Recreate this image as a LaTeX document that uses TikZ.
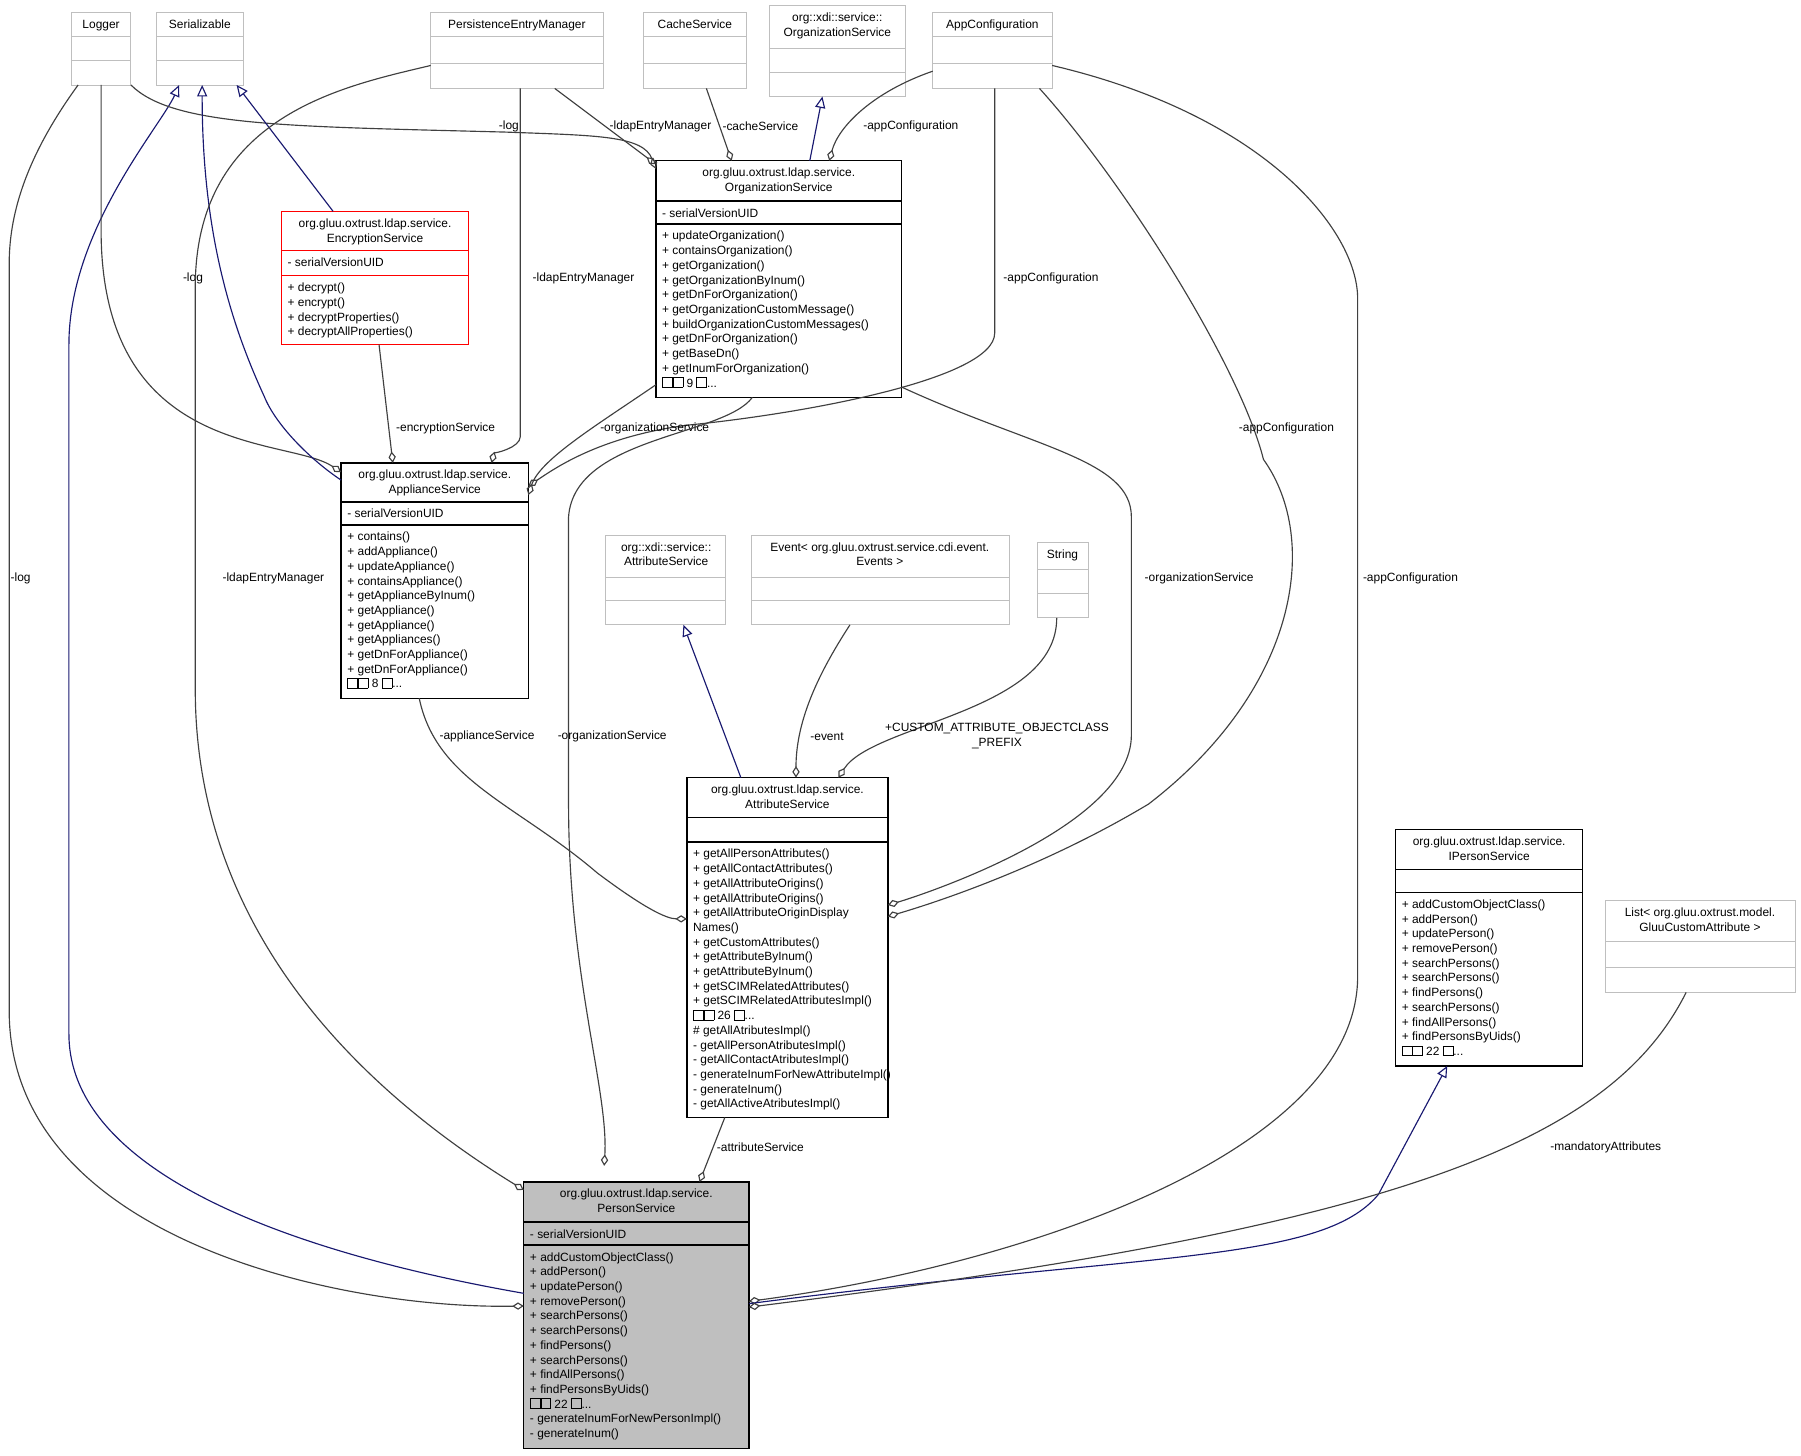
\documentclass[tikz,border=0pt]{standalone}
\usepackage{fontspec}
\setmainfont{Liberation Sans}
\usetikzlibrary{arrows.meta,fit}
\definecolor{ed}{HTML}{404040}
\definecolor{bl}{HTML}{191970}
\definecolor{gb}{HTML}{BFBFBF}
\newcommand\bx{{\setlength\fboxsep{0pt}\setlength\fboxrule{0.3pt}\fbox{\rule{0pt}{4pt}\hspace{4pt}}}}
\newcommand\umlc[8]{\draw[#8] (#2,#3) rectangle (#4,#5); \draw[#8] (#2,#6)--(#4,#6) (#2,#7)--(#4,#7);
 \node[fit={(#2,#3)(#4,#5)},inner sep=0pt] (#1) {};}
\newcommand\ctxt[8]{\node[ttl] at ({(#1+#2)/2},#3+6) {#4};
 \node[bdy] at (#1+5,#5+6) {#6}; \node[bdy] at (#1+5,#7+6) {#8};}
\tikzset{
 ttl/.style={anchor=north,inner sep=0pt,align=center,font=\fontsize{5.2}{6.4}\selectfont},
 bdy/.style={anchor=north west,inner sep=0pt,align=left,font=\fontsize{5.2}{6.4}\selectfont},
 gbox/.style={draw=gb,line width=0.4pt},
 kbox/.style={draw=black,line width=0.6pt},
 rbox/.style={draw=red,line width=0.6pt},
 pbox/.style={draw=black,fill=gb,line width=0.6pt},
 ag/.style={draw=ed,line width=0.5pt,-{Diamond[open,length=5pt,width=3.2pt]}},
 ih/.style={draw=bl,line width=0.5pt,-{Triangle[open,length=5pt,width=4.4pt]}},
 lb/.style={inner sep=0pt,font=\fontsize{5.2}{6.4}\selectfont,align=center},
}
\begin{document}
\begin{tikzpicture}[x=0.5pt,y=-0.5pt]
\useasboundingbox (0,0) rectangle (1568,1267);
% grey classes
\umlc{logger}{62}{11}{114}{74}{32}{53}{gbox}
\node[ttl] at (88,17) {Logger};
\umlc{ser}{136}{11}{212}{74}{32}{53}{gbox}
\node[ttl] at (174,17) {Serializable};
\umlc{pem}{375}{11}{525}{77}{32}{55}{gbox}
\node[ttl] at (450,17) {PersistenceEntryManager};
\umlc{cache}{560}{11}{650}{77}{32}{55}{gbox}
\node[ttl] at (605,17) {CacheService};
\umlc{xorg}{670}{5}{788}{84}{42}{63}{gbox}
\node[ttl] at (729,11) {org::xdi::service::\\OrganizationService};
\umlc{appc}{812}{11}{916}{77}{32}{55}{gbox}
\node[ttl] at (864,17) {AppConfiguration};
\umlc{xattr}{527}{466}{632}{544}{503}{523}{gbox}
\node[ttl] at (580,472) {org::xdi::service::\\AttributeService};
\umlc{event}{654}{466}{879}{544}{503}{523}{gbox}
\node[ttl] at (766,472) {Event< org.gluu.oxtrust.service.cdi.event.\\Events >};
\umlc{str}{903}{472}{948}{538}{496}{517}{gbox}
\node[ttl] at (925,478) {String};
\umlc{list}{1398}{784}{1563}{864}{820}{842}{gbox}
\node[ttl] at (1480,790) {List< org.gluu.oxtrust.model.\\GluuCustomAttribute >};
% main classes
\umlc{org}{571}{140}{785}{346}{175}{195}{kbox}
\ctxt{571}{785}{140}{org.gluu.oxtrust.ldap.service.\\OrganizationService}{175}{- serialVersionUID}{195}{+ updateOrganization()\\+ containsOrganization()\\+ getOrganization()\\+ getOrganizationByInum()\\+ getDnForOrganization()\\+ getOrganizationCustomMessage()\\+ buildOrganizationCustomMessages()\\+ getDnForOrganization()\\+ getBaseDn()\\+ getInumForOrganization()\\\bx\bx{} 9 \bx...}
\umlc{enc}{245}{184}{408}{300}{218}{240}{rbox}
\ctxt{245}{408}{184}{org.gluu.oxtrust.ldap.service.\\EncryptionService}{218}{- serialVersionUID}{240}{+ decrypt()\\+ encrypt()\\+ decryptProperties()\\+ decryptAllProperties()}
\umlc{app}{297}{403}{460}{608}{437}{457}{kbox}
\ctxt{297}{460}{403}{org.gluu.oxtrust.ldap.service.\\ApplianceService}{437}{- serialVersionUID}{457}{+ contains()\\+ addAppliance()\\+ updateAppliance()\\+ containsAppliance()\\+ getApplianceByInum()\\+ getAppliance()\\+ getAppliance()\\+ getAppliances()\\+ getDnForAppliance()\\+ getDnForAppliance()\\\bx\bx{} 8 \bx...}
\umlc{attr}{598}{677}{773}{973}{712}{733}{kbox}
\ctxt{598}{773}{677}{org.gluu.oxtrust.ldap.service.\\AttributeService}{712}{}{733}{+ getAllPersonAttributes()\\+ getAllContactAttributes()\\+ getAllAttributeOrigins()\\+ getAllAttributeOrigins()\\+ getAllAttributeOriginDisplay\\Names()\\+ getCustomAttributes()\\+ getAttributeByInum()\\+ getAttributeByInum()\\+ getSCIMRelatedAttributes()\\+ getSCIMRelatedAttributesImpl()\\\bx\bx{} 26 \bx...\\\# getAllAtributesImpl()\\- getAllPersonAtributesImpl()\\- getAllContactAtributesImpl()\\- generateInumForNewAttributeImpl()\\- generateInum()\\- getAllActiveAtributesImpl()}
\umlc{iper}{1215}{722}{1378}{928}{757}{777}{kbox}
\ctxt{1215}{1378}{722}{org.gluu.oxtrust.ldap.service.\\IPersonService}{757}{}{777}{+ addCustomObjectClass()\\+ addPerson()\\+ updatePerson()\\+ removePerson()\\+ searchPersons()\\+ searchPersons()\\+ findPersons()\\+ searchPersons()\\+ findAllPersons()\\+ findPersonsByUids()\\\bx\bx{} 22 \bx...}
\umlc{per}{456}{1029}{652}{1261}{1064}{1084}{pbox}
\ctxt{456}{652}{1029}{org.gluu.oxtrust.ldap.service.\\PersonService}{1064}{- serialVersionUID}{1084}{+ addCustomObjectClass()\\+ addPerson()\\+ updatePerson()\\+ removePerson()\\+ searchPersons()\\+ searchPersons()\\+ findPersons()\\+ searchPersons()\\+ findAllPersons()\\+ findPersonsByUids()\\\bx\bx{} 22 \bx...\\- generateInumForNewPersonImpl()\\- generateInum()}
% edges
\draw[ag] (68,74) .. controls (20,140) and (8,190) .. (8,230) -- (8,880) .. controls (8,1080) and (300,1140) .. (456,1137);
\node[lb] at (18,504) {-log};
\draw[ih] (456,1126) .. controls (250,1090) and (60,1020) .. (60,900) -- (60,300) .. controls (60,200) and (140,110) .. (156,74);
\draw[ag] (114,74) .. controls (150,110) and (250,110) .. (440,115) .. controls (520,118) and (560,118) .. (571,147);
\node[lb] at (443,110) {-log};
\draw[ag] (88,74) -- (88,200) .. controls (88,400) and (250,380) .. (297,411);
\node[lb] at (168,242) {-log};
\draw[ih] (290,184) -- (206,74);
\draw[ih] (297,418) .. controls (270,400) and (240,370) .. (230,345) .. controls (200,280) and (176,200) .. (176,74);
\draw[ag] (375,57) .. controls (300,75) and (170,100) .. (170,250) -- (170,600) .. controls (170,800) and (300,940) .. (456,1036);
\node[lb] at (238,504) {-ldapEntryManager};
\draw[ag] (453,77) -- (453,380) .. controls (453,390) and (430,395) .. (428,403);
\node[lb] at (508,242) {-ldapEntryManager};
\draw[ag] (483,77) -- (571,143);
\node[lb] at (575,110) {-ldapEntryManager};
\draw[ag] (615,77) -- (637,140);
\node[lb] at (662,110) {-cacheService};
\draw[ih] (705,140) -- (716,84);
\draw[ag] (812,62) .. controls (760,80) and (730,110) .. (722,140);
\node[lb] at (793,110) {-appConfiguration};
\draw[ag] (866,77) -- (866,290) .. controls (866,330) and (700,360) .. (600,370) .. controls (520,380) and (480,410) .. (460,423);
\node[lb] at (915,242) {-appConfiguration};
\draw[ag] (571,335) .. controls (520,370) and (470,400) .. (460,431);
\node[lb] at (570,373) {-organizationService};
\draw[ag] (655,346) .. controls (630,380) and (500,380) .. (495,450) -- (495,700) .. controls (495,850) and (530,950) .. (526,1015);
\node[lb] at (533,641) {-organizationService};
\draw[ag] (905,77) .. controls (980,160) and (1080,320) .. (1100,400) .. controls (1150,470) and (1130,600) .. (1000,700) .. controls (900,760) and (800,790) .. (773,798);
\node[lb] at (1120,373) {-appConfiguration};
\draw[ag] (916,57) .. controls (1100,100) and (1182,200) .. (1182,260) -- (1182,850) .. controls (1182,1000) and (900,1100) .. (652,1133);
\node[lb] at (1228,504) {-appConfiguration};
\draw[ag] (785,337) .. controls (900,390) and (985,400) .. (985,450) -- (985,640) .. controls (985,720) and (800,780) .. (773,788);
\node[lb] at (1044,504) {-organizationService};
\draw[ag] (330,300) -- (342,403);
\node[lb] at (388,373) {-encryptionService};
\draw[ag] (365,608) .. controls (380,680) and (450,700) .. (520,760) .. controls (560,790) and (580,800) .. (598,800);
\node[lb] at (424,641) {-applianceService};
\draw[ih] (645,677) -- (595,544);
\draw[ag] (740,544) .. controls (710,590) and (693,630) .. (693,677);
\node[lb] at (720,641) {-event};
\draw[ag] (920,538) .. controls (920,620) and (760,630) .. (730,677);
\node[lb] at (868,641) {+CUSTOM\_ATTRIBUTE\_OBJECTCLASS\\\_PREFIX};
\draw[ag] (631,973) -- (609,1029);
\node[lb] at (662,999) {-attributeService};
\draw[ih] (652,1135) .. controls (1000,1090) and (1150,1100) .. (1200,1040) -- (1260,928);
\draw[ag] (1468,864) .. controls (1400,1000) and (1200,1070) .. (652,1138);
\node[lb] at (1398,999) {-mandatoryAttributes};
\end{tikzpicture}
\end{document}
